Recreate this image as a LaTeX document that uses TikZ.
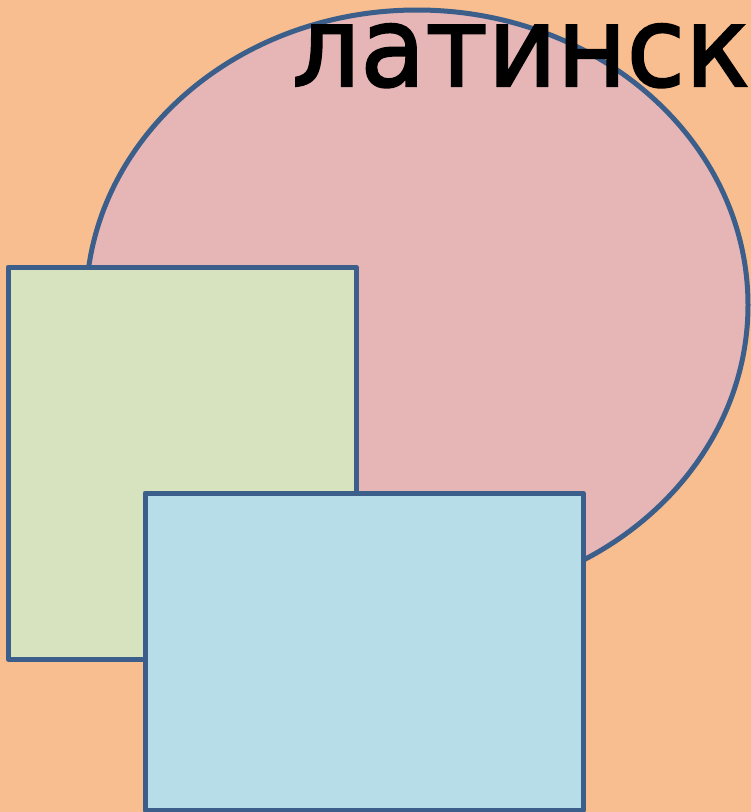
\documentclass[tikz,border=0pt]{standalone}
\usepackage{fontspec}
\setmainfont{DejaVu Sans}
\newfontfamily\titlefont{DejaVu Sans}[FakeBold=2]
\usetikzlibrary{shapes.geometric}

\definecolor{peach}{RGB}{249,190,143}
\definecolor{rosefill}{RGB}{230,182,183}
\definecolor{sagefill}{RGB}{215,227,190}
\definecolor{skyfill}{RGB}{183,221,232}
\definecolor{edgeblue}{RGB}{59,95,138}

\begin{document}
\begin{tikzpicture}[x=1pt, y=-1pt]
    % --- STYLES ---
    \tikzstyle{shapebox} = [draw=edgeblue, line width=5pt, line join=round, inner sep=0pt]
    \tikzstyle{oval} = [shapebox, ellipse, fill=rosefill, minimum width=662pt, minimum height=590pt]
    \tikzstyle{backcard} = [shapebox, rectangle, fill=sagefill, minimum width=348pt, minimum height=392pt]
    \tikzstyle{frontcard} = [shapebox, rectangle, fill=skyfill, minimum width=438pt, minimum height=317pt]
    \tikzstyle{title} = [anchor=base west, inner sep=0pt, font=\titlefont\fontsize{111pt}{111pt}\selectfont]

    % --- PAGE ---
    \useasboundingbox (0,0) rectangle (751,812);
    \fill[peach] (0,0) rectangle (751,812);
    \clip (0,0) rectangle (751,812);

    % --- SHAPES ---
    \node (circle) [oval]      at (417,305)   {};
    \node (green)  [backcard]  at (182,463)   {};
    \node (blue)   [frontcard] at (364,651.5) {};

    % --- TEXT ---
    \node (word) [title] at (292,86) {\scalebox{0.96}[1]{латинск}};
\end{tikzpicture}
\end{document}
